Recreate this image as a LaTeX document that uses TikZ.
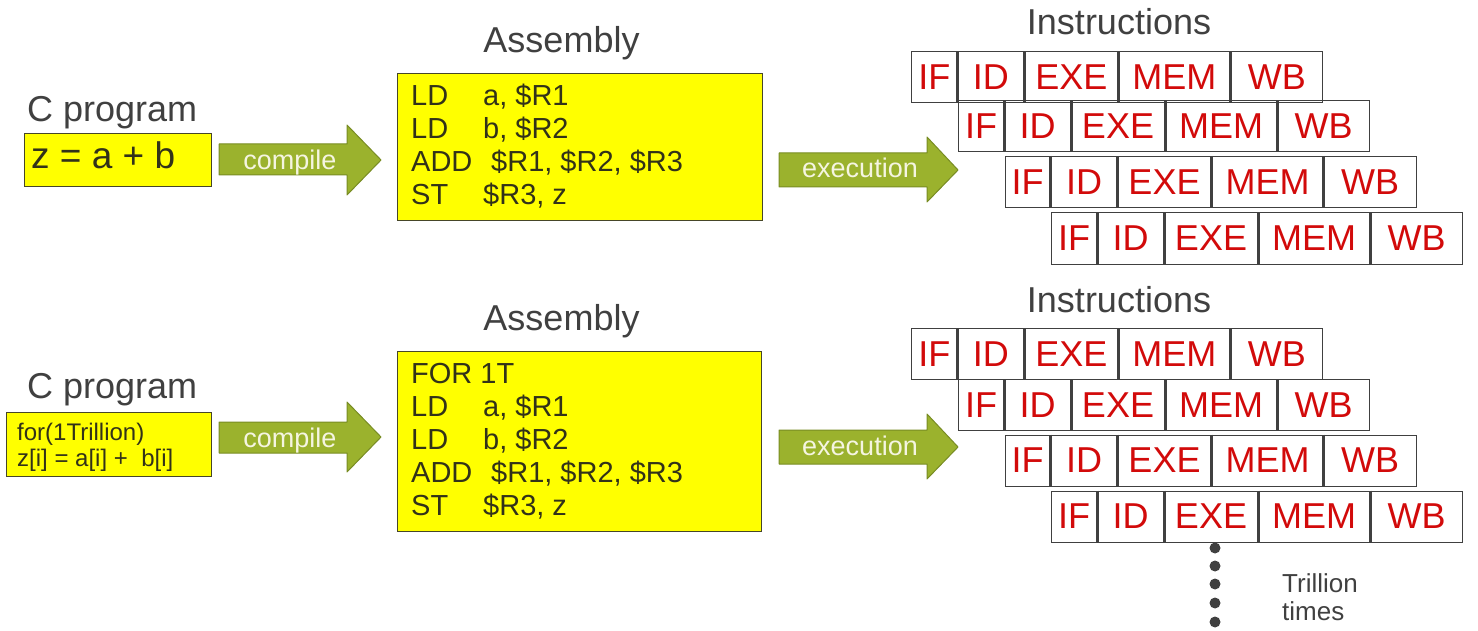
\documentclass[tikz,border=0pt]{standalone}
\usepackage{fontspec}
\setmainfont{Liberation Sans}
\definecolor{labelgray}{RGB}{64,64,64}
\definecolor{asmtext}{RGB}{50,50,25}
\definecolor{boxborder}{RGB}{70,70,40}
\definecolor{boxyellow}{RGB}{255,255,0}
\definecolor{cellborder}{RGB}{64,64,64}
\definecolor{pipered}{RGB}{210,10,10}
\definecolor{arrowgreen}{RGB}{155,178,45}
\definecolor{arrowborder}{RGB}{120,140,35}
\definecolor{arrowtext}{RGB}{245,245,225}
\definecolor{dotcol}{RGB}{64,64,64}
\begin{document}
\begin{tikzpicture}[x=1pt,y=-1pt,
  lbl/.style={text=labelgray, inner sep=0pt, font=\fontsize{36}{40}\selectfont},
  asm/.style={text=asmtext, inner sep=0pt, anchor=base west, font=\fontsize{29}{33}\selectfont},
  ctext/.style={text=asmtext, inner sep=0pt, anchor=base west},
  ybox/.style={draw=boxborder, fill=boxyellow, line width=1pt, inner sep=0pt, anchor=north west},
  cell/.style={draw=cellborder, line width=1pt, text=pipered, inner sep=0pt,
    font=\fontsize{36}{40}\selectfont, anchor=west, minimum height=51pt},
  divider/.style={draw=cellborder, line width=3pt},
  blockarrow/.style={fill=arrowgreen, draw=arrowborder, line width=1pt, line join=round},
  arrowtxt/.style={text=arrowtext, font=\fontsize{27}{30}\selectfont, inner sep=0pt, anchor=base},
  dotmark/.style={circle, fill=dotcol, inner sep=0pt, minimum size=11pt},
  note/.style={text=labelgray, inner sep=0pt, anchor=base west, font=\fontsize{26}{30}\selectfont}
]
\useasboundingbox (0,0) rectangle (1478,631);

% ---------- top half ----------
\node[lbl, anchor=base west] (cprog1) at (27,122) {C program};
\node[ybox, minimum width=187pt, minimum height=53pt] (cbox1) at (24,133) {};
\node[ctext, font=\fontsize{37}{40}\selectfont] (ccode1) at (31,169) {z = a + b};

\draw[blockarrow] (219,144) -- (347,144) -- (347,125) -- (381,160) -- (347,195) -- (347,175) -- (219,175) -- cycle;
\node[arrowtxt] (comp1) at (290,170) {compile};

\node[lbl, anchor=base] (asmlbl1) at (561.5,53) {Assembly};
\node[ybox, minimum width=365pt, minimum height=147pt] (abox1) at (397,73) {};
\node[asm] (a1op1) at (411,106) {LD};
\node[asm] (a1ar1) at (483,106) {a, \$R1};
\node[asm] (a1op2) at (411,139) {LD};
\node[asm] (a1ar2) at (483,139) {b, \$R2};
\node[asm] (a1op3) at (411,172) {ADD};
\node[asm] (a1ar3) at (491,172) {\$R1, \$R2, \$R3};
\node[asm] (a1op4) at (411,205) {ST};
\node[asm] (a1ar4) at (483,205) {\$R3, z};

\draw[blockarrow] (779,153) -- (927,153) -- (927,137) -- (958,170) -- (927,202) -- (927,187) -- (779,187) -- cycle;
\node[arrowtxt] (exec1) at (860,178) {execution};

\node[lbl, anchor=base] (inslbl1) at (1119,35) {Instructions};

% ---------- bottom half ----------
\node[lbl, anchor=base west] (cprog2) at (27,398) {C program};
\node[ybox, minimum width=205pt, minimum height=64pt] (cbox2) at (6,412) {};
\node[ctext, font=\fontsize{24}{27}\selectfont] (ccode2a) at (17,440) {for(1Trillion)};
\node[ctext, font=\fontsize{24}{27}\selectfont] (ccode2b) at (17,466) {z[i] = a[i] + \ b[i]};

\draw[blockarrow] (219,422) -- (347,422) -- (347,402) -- (381,437) -- (347,472) -- (347,453) -- (219,453) -- cycle;
\node[arrowtxt] (comp2) at (290,447) {compile};

\node[lbl, anchor=base] (asmlbl2) at (561.5,330) {Assembly};
\node[ybox, minimum width=364pt, minimum height=180pt] (abox2) at (397,351) {};
\node[asm] (a2op0) at (411,383) {FOR 1T};
\node[asm] (a2op1) at (411,416) {LD};
\node[asm] (a2ar1) at (483,416) {a, \$R1};
\node[asm] (a2op2) at (411,449) {LD};
\node[asm] (a2ar2) at (483,449) {b, \$R2};
\node[asm] (a2op3) at (411,482) {ADD};
\node[asm] (a2ar3) at (491,482) {\$R1, \$R2, \$R3};
\node[asm] (a2op4) at (411,515) {ST};
\node[asm] (a2ar4) at (483,515) {\$R3, z};

\draw[blockarrow] (779,430) -- (927,430) -- (927,414) -- (958,447) -- (927,479) -- (927,464) -- (779,464) -- cycle;
\node[arrowtxt] (exec2) at (860,455) {execution};

\node[lbl, anchor=base] (inslbl2) at (1119,312) {Instructions};

% ---------- pipelines ----------
\foreach \g/\r/\x/\y in {T/1/911.4/77.5, T/2/958/126.5, T/3/1004.5/182, T/4/1051/238.5,
                         B/1/911.4/354, B/2/958/405, B/3/1004.5/460.5, B/4/1051/516.5}{
  \node[cell, minimum width=45pt] (\g\r-1) at (\x,\y) {IF};
  \node[cell, minimum width=66pt] (\g\r-2) at (\g\r-1.east) {ID};
  \node[cell, minimum width=93pt] (\g\r-3) at (\g\r-2.east) {EXE};
  \node[cell, minimum width=111pt] (\g\r-4) at (\g\r-3.east) {MEM};
  \node[cell, minimum width=92pt] (\g\r-5) at (\g\r-4.east) {WB};
  \foreach \c in {1,2,3,4}{
    \draw[divider] (\g\r-\c.north east) -- (\g\r-\c.south east);
  }
}

% ---------- repetition marker ----------
\foreach \i/\yy in {1/548, 2/566, 3/584, 4/603, 5/622}{
  \node[dotmark] (dot\i) at (1215,\yy) {};
}
\node[note] (tr1) at (1282,592) {Trillion};
\node[note] (tr2) at (1282,620) {times};
\end{tikzpicture}
\end{document}
